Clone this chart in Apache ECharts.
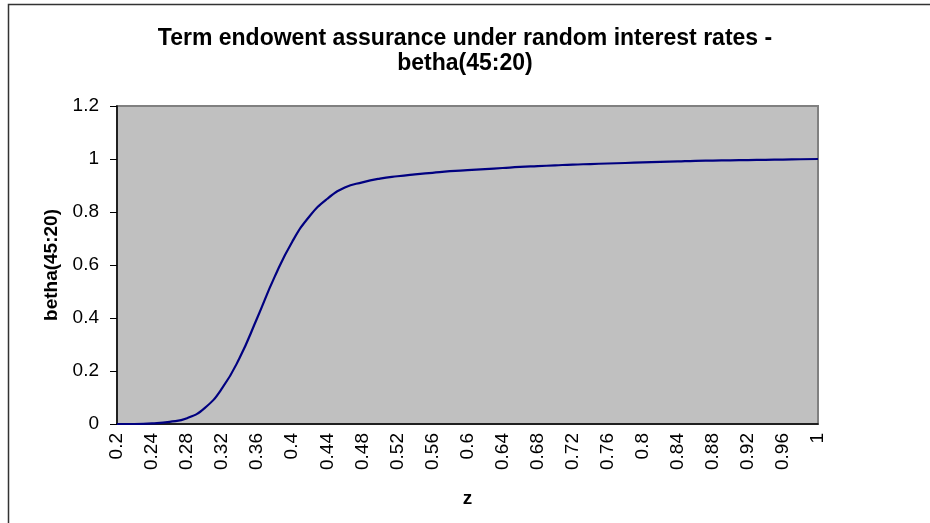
<!DOCTYPE html>
<html>
<head>
<meta charset="utf-8">
<script src="https://cdn.jsdelivr.net/npm/echarts@6/dist/echarts.min.js"></script>
<style>
html,body{margin:0;padding:0;background:#fff;}
#chart{width:930px;height:523px;}
</style>
</head>
<body>
<div id="chart"></div>
<script>
// Data
var zValues = ['0.2','0.22','0.24','0.26','0.28','0.3','0.32','0.34','0.36','0.38',
  '0.4','0.42','0.44','0.46','0.48','0.5','0.52','0.54','0.56','0.58',
  '0.6','0.62','0.64','0.66','0.68','0.7','0.72','0.74','0.76','0.78',
  '0.8','0.82','0.84','0.86','0.88','0.9','0.92','0.94','0.96','0.98','1'];
var bethaValues = [0.000, 0.000, 0.002, 0.008, 0.022, 0.060, 0.135, 0.250, 0.400, 0.556,
  0.688, 0.785, 0.850, 0.892, 0.912, 0.926, 0.935, 0.942, 0.948, 0.954,
  0.958, 0.962, 0.966, 0.970, 0.973, 0.976, 0.979, 0.981, 0.983, 0.985,
  0.987, 0.989, 0.991, 0.993, 0.994, 0.995, 0.996, 0.997, 0.998, 0.999, 1.000];
var yTicks = [0, 0.2, 0.4, 0.6, 0.8, 1, 1.2];
var titleText = 'Term endowent assurance under random interest rates -\nbetha(45:20)';
var xName = 'z';
var yName = 'betha(45:20)';

var FONT = '"Liberation Sans", Arial, sans-serif';
var chart = echarts.init(document.getElementById('chart'), null, {renderer: 'canvas'});
chart.setOption({
  animation: false,
  backgroundColor: '#ffffff',
  title: {
    text: titleText,
    left: 'center',
    top: 21,
    textStyle: {fontFamily: FONT, fontSize: 23, fontWeight: 'bold', color: '#000', lineHeight: 25}
  },
  graphic: [{
    type: 'rect',
    shape: {x: 8.5, y: 4.5, width: 1000, height: 1000},
    style: {fill: 'none', stroke: '#333', lineWidth: 1.5},
    silent: true, z: -1
  }],
  grid: {
    left: 117, right: 112, top: 106, bottom: 99,
    show: true, backgroundColor: '#c0c0c0', borderColor: '#808080', borderWidth: 2
  },
  xAxis: {
    type: 'category',
    data: zValues,
    boundaryGap: false,
    name: xName,
    nameLocation: 'middle',
    nameGap: 65,
    nameTextStyle: {fontFamily: FONT, fontSize: 19, fontWeight: 'bold', color: '#000'},
    axisLine: {show: true, lineStyle: {color: '#000', width: 1.5}},
    axisTick: {show: false},
    axisLabel: {interval: 1, rotate: 90, margin: 9, fontFamily: FONT, fontSize: 19, color: '#000'},
    splitLine: {show: false}
  },
  yAxis: {
    type: 'value',
    min: yTicks[0],
    max: yTicks[yTicks.length - 1],
    interval: 0.2,
    name: yName,
    nameLocation: 'middle',
    nameGap: 55,
    nameTextStyle: {fontFamily: FONT, fontSize: 19, fontWeight: 'bold', color: '#000'},
    axisLine: {show: true, lineStyle: {color: '#000', width: 1.5}},
    axisTick: {show: true, length: 7, inside: false, lineStyle: {color: '#000'}},
    axisLabel: {margin: 18, fontFamily: FONT, fontSize: 19, color: '#000',
      formatter: function (v) { return String(Math.round(v * 10) / 10); }},
    splitLine: {show: false}
  },
  series: [{
    type: 'line',
    data: bethaValues,
    smooth: true,
    showSymbol: false,
    lineStyle: {color: '#000080', width: 2.2},
    itemStyle: {color: '#000080'}
  }]
});
</script>
</body>
</html>
